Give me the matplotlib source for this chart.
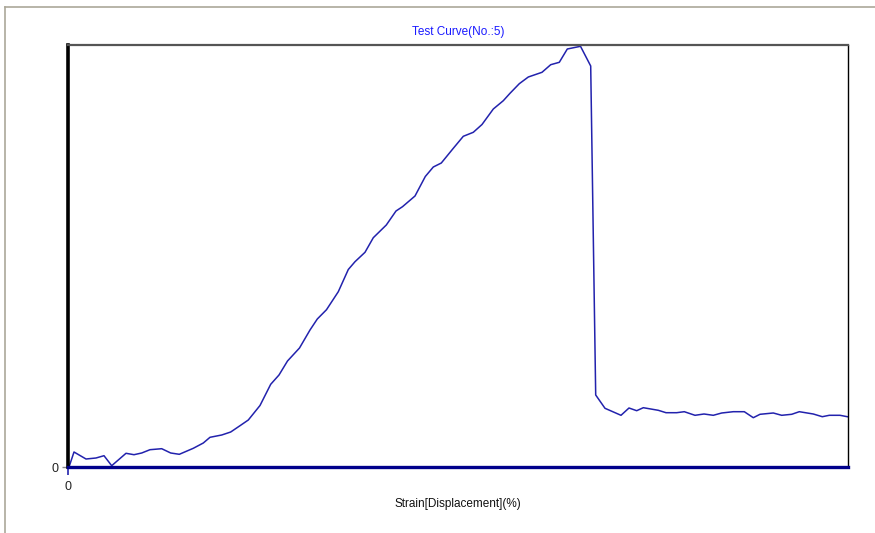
import matplotlib
matplotlib.use("Agg")
import matplotlib.pyplot as plt
from matplotlib.lines import Line2D

plt.rcParams["font.family"] = ["Liberation Sans", "DejaVu Sans"]

# strain (arbitrary units)
strain = [
    0.10, 0.60, 1.80, 2.80, 3.60, 4.37, 5.80, 6.60, 7.37, 8.20,
    9.37, 10.27, 11.13, 12.53, 13.53, 14.20, 15.37, 16.27, 17.20, 18.03,
    19.20, 20.27, 21.10, 21.95, 23.15, 24.20, 24.93, 25.85, 27.03, 28.03,
    28.70, 29.70, 30.53, 31.83, 32.80, 33.45, 34.70, 35.73, 36.53, 37.33,
    38.53, 39.53, 40.53, 41.40, 42.53, 43.53, 44.20, 45.13, 46.03, 47.40,
    48.27, 49.13, 49.93, 51.25, 52.27, 52.77, 53.70, 55.30, 56.10, 56.87,
    57.53, 59.03, 59.80, 60.87, 61.63, 62.70, 63.60, 64.53, 65.37, 66.53,
    67.63, 68.53, 69.20, 70.53, 71.37, 72.37, 73.13, 74.53, 75.43, 76.13,
    77.20, 77.93,
]
# load (arbitrary units)
load = [
    0.00, 1.50, 0.80, 0.90, 1.13, 0.13, 1.37, 1.23, 1.40, 1.73,
    1.83, 1.40, 1.27, 1.87, 2.40, 2.97, 3.20, 3.50, 4.13, 4.70,
    6.15, 8.27, 9.20, 10.60, 11.90, 13.70, 14.80, 15.73, 17.53, 19.75,
    20.53, 21.47, 22.93, 24.20, 25.60, 26.03, 27.10, 29.05, 30.00, 30.40,
    31.87, 33.07, 33.47, 34.25, 35.80, 36.63, 37.37, 38.33, 39.00, 39.47,
    40.23, 40.47, 41.80, 42.07, 40.10, 7.20, 5.87, 5.17, 5.90, 5.63,
    5.93, 5.67, 5.43, 5.43, 5.53, 5.17, 5.30, 5.17, 5.40, 5.53,
    5.53, 4.93, 5.27, 5.40, 5.17, 5.27, 5.53, 5.30, 5.03, 5.17,
    5.17, 5.03,
]

fig = plt.figure(figsize=(8.75, 5.33), dpi=100)

# light outer frame of the report panel
fig.add_artist(Line2D([5 / 875, 5 / 875], [0, 1 - 7 / 533], transform=fig.transFigure,
                      color="#aca899", lw=1.2))
fig.add_artist(Line2D([5 / 875, 1], [1 - 7 / 533, 1 - 7 / 533], transform=fig.transFigure,
                      color="#aca899", lw=1.2))

ax = fig.add_axes([68 / 875, 1 - 467 / 533, 780 / 875, 422.5 / 533])
ax.plot(strain, load, color="#2222ad", lw=1.1)
ax.axhline(0, color="#00008b", lw=2.4, zorder=3, clip_on=False)

ax.set_xlim(0, 78.0)
ax.set_ylim(0, 42.25)

ax.spines["left"].set_linewidth(2.6)
ax.spines["left"].set_color("black")
ax.spines["top"].set_linewidth(1.6)
ax.spines["top"].set_color("#555555")
ax.spines["right"].set_linewidth(1.0)
ax.spines["right"].set_color("black")
ax.spines["bottom"].set_visible(False)

ax.set_xticks([0])
ax.set_xticklabels(["0"])
ax.set_yticks([0])
ax.set_yticklabels(["0"])
ax.tick_params(axis="x", colors="#2222ad", length=6, width=1.2, labelsize=9, pad=4)
ax.tick_params(axis="y", colors="#888888", length=4, width=1.0, labelsize=9, pad=3)
for lab in ax.get_xticklabels() + ax.get_yticklabels():
    lab.set_color("#222222")

ax.set_title("Test Curve(No.:5)", color="#1a1aff", fontsize=8.5, pad=7)
ax.set_xlabel("Strain[Displacement](%)", fontsize=8.5, color="#111111", labelpad=4)

fig.savefig("out.png", dpi=100)
